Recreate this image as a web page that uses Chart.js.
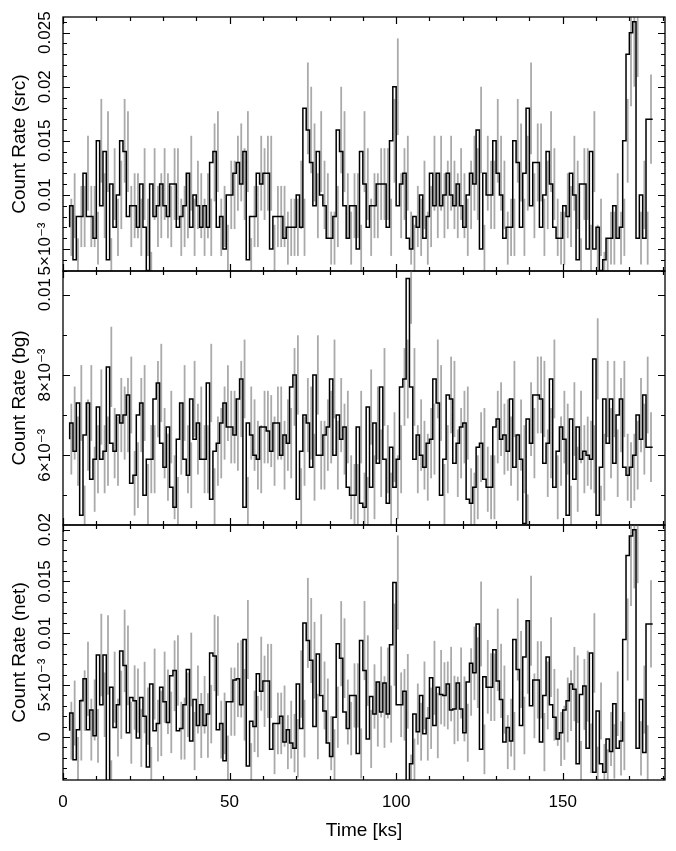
<!DOCTYPE html>
<html>
<head>
<meta charset="utf-8">
<script src="https://cdn.jsdelivr.net/npm/chart.js@4.4.1/dist/chart.umd.min.js"></script>
<style>
  html, body { margin: 0; padding: 0; background: #fff; }
  #wrap { position: relative; width: 676px; height: 851px; }
  #wrap canvas { position: absolute; left: 0; top: 0; }
</style>
</head>
<body>
<div id="wrap">
  <canvas id="cSrc" width="676" height="851"></canvas>
  <canvas id="cBg" width="676" height="851"></canvas>
  <canvas id="cNet" width="676" height="851"></canvas>
</div>
<script>
// time bins (ks): left edge of the first bin and bin width
var binStart = 2.0;
var binWidth = 1.0;

// source region count rate, one value per bin
var srcRate = [
  0.007,0.009,0.004,0.008,0.008,0.012,0.008,0.008,0.006,0.015,
  0.009,0.014,0.004,0.011,0.007,0.010,0.015,0.014,0.008,0.009,
  0.009,0.007,0.011,0.007,0.003,0.011,0.008,0.009,0.011,0.009,
  0.008,0.011,0.011,0.007,0.008,0.009,0.012,0.007,0.010,0.009,
  0.007,0.009,0.007,0.013,0.014,0.007,0.008,0.005,0.010,0.010,
  0.012,0.013,0.011,0.014,0.004,0.008,0.008,0.012,0.011,0.012,
  0.012,0.005,0.008,0.008,0.008,0.006,0.007,0.007,0.007,0.010,
  0.007,0.018,0.016,0.013,0.009,0.014,0.010,0.009,0.006,0.006,
  0.008,0.016,0.014,0.009,0.006,0.009,0.009,0.005,0.014,0.011,
  0.007,0.009,0.009,0.011,0.011,0.011,0.007,0.015,0.020,0.009,
  0.011,0.012,0.006,0.005,0.008,0.007,0.010,0.006,0.008,0.012,
  0.009,0.012,0.009,0.010,0.012,0.010,0.009,0.011,0.009,0.007,
  0.010,0.012,0.011,0.016,0.005,0.012,0.010,0.010,0.015,0.012,
  0.010,0.006,0.007,0.007,0.015,0.013,0.007,0.012,0.018,0.009,
  0.013,0.013,0.007,0.010,0.014,0.011,0.007,0.006,0.006,0.009,
  0.008,0.012,0.010,0.004,0.011,0.011,0.005,0.014,0.005,0.007,
  0.003,0.004,0.006,0.006,0.009,0.006,0.007,0.015,0.023,0.025,
  0.026,0.006,0.010,0.006,0.017
];

// background count rate (area scaled)
var bgRate = [
  0.0064,0.0068,0.0061,0.0073,0.0045,0.0065,0.0073,0.0054,0.0059,0.0072,
  0.0059,0.0061,0.0082,0.0063,0.0061,0.0070,0.0068,0.0070,0.0075,0.0053,
  0.0055,0.0070,0.0073,0.0050,0.0059,0.0059,0.0074,0.0078,0.0063,0.0057,
  0.0067,0.0052,0.0047,0.0064,0.0073,0.0059,0.0055,0.0074,0.0064,0.0068,
  0.0059,0.0059,0.0078,0.0049,0.0061,0.0063,0.0068,0.0073,0.0067,0.0067,
  0.0065,0.0074,0.0079,0.0047,0.0068,0.0065,0.0060,0.0059,0.0067,0.0067,
  0.0066,0.0061,0.0068,0.0068,0.0060,0.0065,0.0063,0.0077,0.0080,0.0049,
  0.0061,0.0070,0.0068,0.0057,0.0080,0.0060,0.0060,0.0065,0.0067,0.0079,
  0.0060,0.0070,0.0064,0.0067,0.0052,0.0050,0.0050,0.0067,0.0048,0.0047,
  0.0072,0.0052,0.0068,0.0058,0.0077,0.0059,0.0048,0.0062,0.0052,0.0059,
  0.0077,0.0079,0.0104,0.0077,0.0059,0.0065,0.0060,0.0057,0.0063,0.0064,
  0.0079,0.0073,0.0050,0.0059,0.0075,0.0074,0.0058,0.0063,0.0067,0.0068,
  0.0049,0.0048,0.0052,0.0062,0.0063,0.0054,0.0052,0.0052,0.0067,0.0069,
  0.0064,0.0065,0.0061,0.0074,0.0057,0.0065,0.0059,0.0043,0.0069,0.0063,
  0.0075,0.0075,0.0074,0.0058,0.0063,0.0079,0.0052,0.0061,0.0067,0.0064,
  0.0045,0.0069,0.0054,0.0067,0.0059,0.0061,0.0060,0.0059,0.0084,0.0045,
  0.0057,0.0074,0.0063,0.0074,0.0058,0.0070,0.0074,0.0057,0.0055,0.0057,
  0.0060,0.0070,0.0064,0.0075,0.0062
];

// net count rate
var netRate = [
  0.0006,0.0023,-0.0022,0.0007,0.0035,0.0056,0.0007,0.0026,0.0001,0.0079,
  0.0031,0.0079,-0.0045,0.0048,0.0009,0.0031,0.0083,0.0069,0.0004,0.0038,
  0.0035,-0.0001,0.0038,0.0020,-0.0029,0.0051,0.0006,0.0013,0.0048,0.0034,
  0.0014,0.0059,0.0064,0.0006,0.0008,0.0031,0.0065,-0.0004,0.0036,0.0011,
  0.0031,0.0011,0.0022,0.0081,0.0078,0.0007,0.0013,-0.0023,0.0034,0.0034,
  0.0055,0.0056,0.0031,0.0094,-0.0028,0.0015,0.0010,0.0061,0.0044,0.0054,
  0.0054,-0.0012,0.0013,0.0013,0.0020,-0.0005,0.0007,-0.0006,-0.0011,0.0051,
  0.0008,0.0110,0.0093,0.0074,0.0010,0.0080,0.0040,0.0025,-0.0006,-0.0019,
  0.0019,0.0090,0.0076,0.0024,0.0008,0.0040,0.0040,-0.0016,0.0093,0.0064,
  -0.0002,0.0039,0.0022,0.0053,0.0024,0.0052,0.0022,0.0089,0.0149,0.0031,
  0.0031,0.0044,-0.0044,-0.0026,0.0022,0.0005,0.0040,0.0003,0.0018,0.0057,
  0.0011,0.0048,0.0041,0.0040,0.0051,0.0026,0.0027,0.0052,0.0027,0.0004,
  0.0053,0.0071,0.0062,0.0109,-0.0012,0.0058,0.0048,0.0048,0.0084,0.0054,
  0.0036,-0.0005,0.0009,-0.0004,0.0094,0.0065,0.0011,0.0077,0.0112,0.0030,
  0.0055,0.0055,-0.0005,0.0040,0.0077,0.0031,0.0019,-0.0002,0.0004,0.0026,
  0.0035,0.0051,0.0046,-0.0026,0.0041,0.0049,-0.0011,0.0081,-0.0034,0.0025,
  -0.0026,-0.0034,-0.0002,-0.0014,0.0032,-0.0011,-0.0004,0.0094,0.0175,0.0194,
  0.0200,-0.0011,0.0036,-0.0015,0.0109
];

// tick labels of the y axes
var srcTicks = [0.005, 0.01, 0.015, 0.02, 0.025];
var srcTickLabels = ['5\u00d710\u207b\u00b3', '0.01', '0.015', '0.02', '0.025'];
var bgTicks = [0.006, 0.008, 0.01];
var bgTickLabels = ['6\u00d710\u207b\u00b3', '8\u00d710\u207b\u00b3', '0.01'];
var netTicks = [0, 0.005, 0.01, 0.015, 0.02];
var netTickLabels = ['0', '5\u00d710\u207b\u00b3', '0.01', '0.015', '0.02'];

// poisson errors: 1 ks bins, background region scaled by ~0.122
var bgScale = 0.122;
var srcErr = srcRate.map(function (v) { return Math.sqrt(Math.max(v, 0) / 1000); });
var bgErr = bgRate.map(function (v) { return Math.sqrt(v * bgScale / 1000); });
var netErr = srcRate.map(function (v, i) {
  return Math.sqrt(srcErr[i] * srcErr[i] + bgErr[i] * bgErr[i]);
});

var FONT = "'Liberation Sans', 'DejaVu Sans', Arial, sans-serif";

function stepPoints(vals) {
  var pts = vals.map(function (v, i) { return { x: binStart + i * binWidth, y: v }; });
  pts.push({ x: binStart + vals.length * binWidth, y: vals[vals.length - 1] });
  return pts;
}

function makePanel(id, p) {
  var panelPlugin = {
    id: 'panel_' + id,
    beforeDatasetsDraw: function (chart) {
      var ctx = chart.ctx, a = chart.chartArea;
      var xs = chart.scales.x, ys = chart.scales.y;
      ctx.save();
      ctx.beginPath();
      ctx.rect(a.left, a.top, a.right - a.left, a.bottom - a.top);
      ctx.clip();
      ctx.strokeStyle = '#aaaaaa';
      ctx.lineWidth = 1.8;
      p.values.forEach(function (v, i) {
        var px = xs.getPixelForValue(binStart + (i + 0.5) * binWidth);
        ctx.beginPath();
        ctx.moveTo(px, ys.getPixelForValue(v - p.errors[i]));
        ctx.lineTo(px, ys.getPixelForValue(v + p.errors[i]));
        ctx.stroke();
      });
      ctx.restore();
    },
    afterDraw: function (chart) {
      var ctx = chart.ctx, a = chart.chartArea;
      var xs = chart.scales.x, ys = chart.scales.y;
      ctx.save();
      ctx.strokeStyle = '#000';
      ctx.lineWidth = 1.2;
      // x ticks, top and bottom, pointing inwards
      for (var t = 0; t <= xs.max; t += 10) {
        var px = Math.round(xs.getPixelForValue(t)) + 0.5;
        var len = (t % 50 === 0) ? 7 : 4;
        ctx.beginPath();
        ctx.moveTo(px, a.top); ctx.lineTo(px, a.top + len);
        ctx.moveTo(px, a.bottom); ctx.lineTo(px, a.bottom - len);
        ctx.stroke();
      }
      // y ticks, left and right
      var k0 = Math.ceil(ys.min / 0.001 - 1e-6), k1 = Math.floor(ys.max / 0.001 + 1e-6);
      for (var k = k0; k <= k1; k++) {
        var val = k * 0.001;
        var major = p.ticks.some(function (tv) { return Math.abs(tv - val) < 1e-9; });
        var py = Math.round(ys.getPixelForValue(val)) + 0.5;
        var l = major ? 7 : 4;
        ctx.beginPath();
        ctx.moveTo(a.left, py); ctx.lineTo(a.left + l, py);
        ctx.moveTo(a.right, py); ctx.lineTo(a.right - l, py);
        ctx.stroke();
      }
      // frame
      ctx.lineWidth = 1.3;
      ctx.strokeRect(a.left, a.top, a.right - a.left, a.bottom - a.top);
      // rotated y tick labels
      ctx.fillStyle = '#000';
      ctx.font = '17px ' + FONT;
      ctx.textAlign = 'center';
      ctx.textBaseline = 'alphabetic';
      p.ticks.forEach(function (tv, i) {
        ctx.save();
        ctx.translate(50, ys.getPixelForValue(tv));
        ctx.rotate(-Math.PI / 2);
        ctx.fillText(p.labels[i], 0, 0);
        ctx.restore();
      });
      // y title
      ctx.font = '19px ' + FONT;
      ctx.save();
      ctx.translate(25, (a.top + a.bottom) / 2);
      ctx.rotate(-Math.PI / 2);
      ctx.fillText(p.title, 0, 0);
      ctx.restore();
      ctx.restore();
    }
  };

  return new Chart(document.getElementById(id), {
    type: 'line',
    data: {
      datasets: [{
        data: stepPoints(p.values),
        stepped: 'after',
        borderColor: '#000',
        borderWidth: 1.5,
        pointRadius: 0,
        fill: false
      }]
    },
    options: {
      responsive: false,
      animation: false,
      devicePixelRatio: 1,
      events: [],
      layout: { padding: { left: 63, right: 11, top: p.top, bottom: p.bottom } },
      plugins: { legend: { display: false }, tooltip: { enabled: false } },
      scales: {
        x: {
          type: 'linear',
          min: 0,
          max: 180.7,
          display: p.showX,
          grid: { display: false, drawTicks: false },
          border: { display: false },
          ticks: {
            stepSize: 50,
            includeBounds: false,
            padding: 12,
            color: '#000',
            font: { family: FONT, size: 17 }
          },
          title: {
            display: true,
            text: 'Time [ks]',
            color: '#000',
            font: { family: FONT, size: 19 },
            padding: { top: 4, bottom: 9 }
          },
          afterFit: function (s) { s.height = p.showX ? 71 : 0; }
        },
        y: {
          type: 'linear',
          min: p.yMin,
          max: p.yMax,
          display: false
        }
      }
    },
    plugins: [panelPlugin]
  });
}

makePanel('cSrc', {
  values: srcRate, errors: srcErr,
  yMin: 0.00296, yMax: 0.02645,
  ticks: srcTicks, labels: srcTickLabels,
  title: 'Count Rate (src)',
  top: 17, bottom: 580, showX: false
});

makePanel('cBg', {
  values: bgRate, errors: bgErr,
  yMin: 0.00426, yMax: 0.01059,
  ticks: bgTicks, labels: bgTickLabels,
  title: 'Count Rate (bg)',
  top: 271, bottom: 326, showX: false
});

makePanel('cNet', {
  values: netRate, errors: netErr,
  yMin: -0.00416, yMax: 0.02045,
  ticks: netTicks, labels: netTickLabels,
  title: 'Count Rate (net)',
  top: 525, bottom: 0, showX: true
});
</script>
</body>
</html>
